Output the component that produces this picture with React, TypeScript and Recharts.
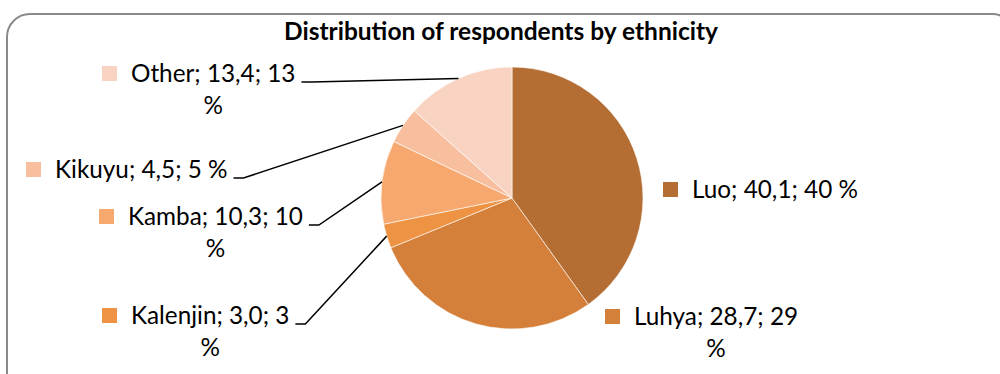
import { PieChart, Pie, Cell } from 'recharts';

const CATEGORIES = ['Luo', 'Luhya', 'Kalenjin', 'Kamba', 'Kikuyu', 'Other'];
const SHARES = [40.1, 28.7, 3.0, 10.3, 4.5, 13.4];
const COLORS = ['#B46D33', '#D4803A', '#EE9244', '#F6A86E', '#F8BF9F', '#F9D3C2'];

// label placement relative to the pie centre: text start x, baseline y
const LABEL_LAYOUT = [
  { dx: 180, dy: 0, wrap: false, leader: false },
  { dx: 122, dy: 127, wrap: true, leader: false },
  { dx: -381, dy: 126, wrap: true, leader: true },
  { dx: -384, dy: 27, wrap: true, leader: true },
  { dx: -457, dy: -20, wrap: false, leader: true },
  { dx: -381, dy: -116, wrap: true, leader: true },
];

const FONT = 'Lato, "Open Sans", sans-serif';
const FONT_SIZE = 24.3;

const data = CATEGORIES.map((name, i) => ({ name, value: SHARES[i] }));

let ctx: CanvasRenderingContext2D | null = null;
function textWidth(s: string) {
  if (!ctx) ctx = document.createElement('canvas').getContext('2d');
  if (!ctx) return s.length * FONT_SIZE * 0.5;
  ctx.font = `${FONT_SIZE}px Lato`;
  return ctx.measureText(s).width;
}

const RAD = Math.PI / 180;

function renderLabel(props: any) {
  const { cx, cy, midAngle, outerRadius, index, name, value } = props;
  const lay = LABEL_LAYOUT[index];
  const x = cx + lay.dx;
  const y = cy + lay.dy;
  const pct = `${Math.round(value)} %`;
  const num = value.toFixed(1).replace('.', ',');
  const line1 = lay.wrap ? `${name}; ${num}; ${Math.round(value)}` : `${name}; ${num}; ${pct}`;
  const w = textWidth(line1);
  const ex = cx + outerRadius * Math.cos(-midAngle * RAD);
  const ey = cy + outerRadius * Math.sin(-midAngle * RAD);
  return (
    <g key={`lbl-${index}`}>
      <rect x={x - 29} y={y - 16} width={15} height={15} fill={COLORS[index]} />
      <text x={x} y={y} fontFamily={FONT} fontSize={FONT_SIZE} fill="#000">{line1}</text>
      {lay.wrap && (
        <text x={x + w / 2} y={y + 32} textAnchor="middle" fontFamily={FONT} fontSize={FONT_SIZE} fill="#000">%</text>
      )}
      {lay.leader && (
        <polyline
          points={`${x + w + 6},${y} ${x + w + 16},${y} ${ex},${ey}`}
          fill="none"
          stroke="#000"
          strokeWidth={1.5}
        />
      )}
    </g>
  );
}

export default function App() {
  return (
    <div style={{ position: 'fixed', left: 0, top: 0, width: 1000, height: 374, overflow: 'hidden', background: '#fff' }}>
      <div
        style={{
          position: 'absolute', left: 6, top: 13, width: 1010, height: 420,
          border: '2px solid #8a8a8a', borderRadius: 24, boxSizing: 'border-box',
        }}
      />
      <div
        style={{
          position: 'absolute', left: 0, top: 17, width: 1002, textAlign: 'center',
          fontFamily: FONT, fontWeight: 700, fontSize: 24.5, lineHeight: '28px', color: '#000',
        }}
      >
        Distribution of respondents by ethnicity
      </div>
      <div style={{ position: 'absolute', left: 0, top: 0 }}>
        <PieChart width={1000} height={374} margin={{ top: 0, right: 0, bottom: 0, left: 0 }}>
          <Pie
            data={data}
            dataKey="value"
            nameKey="name"
            cx={512}
            cy={198}
            outerRadius={131}
            startAngle={90}
            endAngle={-270}
            stroke="#ffffff"
            strokeWidth={0.6}
            label={renderLabel}
            labelLine={false}
            isAnimationActive={false}
          >
            {data.map((d, i) => (
              <Cell key={d.name} fill={COLORS[i]} />
            ))}
          </Pie>
        </PieChart>
      </div>
    </div>
  );
}
